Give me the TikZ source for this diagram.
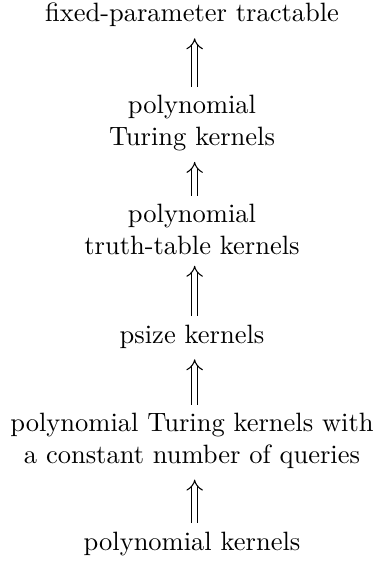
\documentclass[tikz,border=0pt]{standalone}
\usetikzlibrary{arrows.meta}
\begin{document}
\begin{tikzpicture}[x=0.37736pt,y=-0.37736pt,
  lbl/.style={inner sep=0pt, align=center},
  imp/.style={double, double distance=1.8pt, line width=0.4pt, -{Implies},
    shorten >=4pt, shorten <=3pt, transform canvas={xshift=1pt}}]
\useasboundingbox (0,0) rectangle (383,561);
\node[lbl,anchor=base]  (fpt)   at (192,22)    {fixed-parameter tractable};
\node[lbl,anchor=north] (ptk)   at (192,94.6)  {polynomial\\Turing kernels};
\node[lbl,anchor=north] (ptt)   at (192,203.6) {polynomial\\truth-table kernels};
\node[lbl,anchor=base]  (psize) at (192,343)   {psize kernels};
\node[lbl,anchor=north] (ptkc)  at (192,412.6) {polynomial Turing kernels with\\a constant number of queries};
\node[lbl,anchor=base]  (poly)  at (192,550)   {polynomial kernels};
\draw[imp] (ptk)   -- (fpt);
\draw[imp] (ptt)   -- (ptk);
\draw[imp] (psize) -- (ptt);
\draw[imp] (ptkc)  -- (psize);
\draw[imp] (poly)  -- (ptkc);
\end{tikzpicture}
\end{document}
